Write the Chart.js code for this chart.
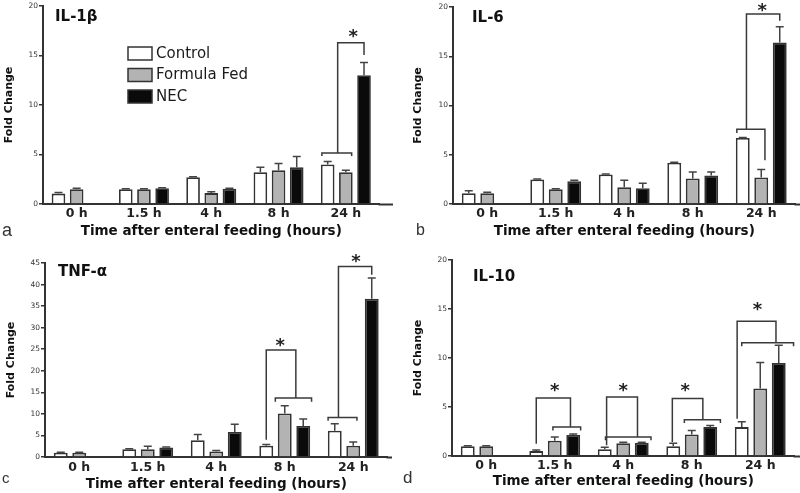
<!DOCTYPE html>
<html>
<head>
<meta charset="utf-8">
<script src="https://cdn.jsdelivr.net/npm/chart.js@4.4.0/dist/chart.umd.min.js"></script>
<style>
  html, body { margin: 0; padding: 0; background: #fff; }
  #wrap { position: relative; width: 800px; height: 493px; }
  canvas { position: absolute; }
</style>
</head>
<body>
<div id="wrap">
  <canvas id="ca" width="400" height="245" style="left:0;top:0"></canvas>
  <canvas id="cb" width="400" height="245" style="left:400px;top:0"></canvas>
  <canvas id="cc" width="400" height="248" style="left:0;top:245px"></canvas>
  <canvas id="cd" width="400" height="248" style="left:400px;top:245px"></canvas>
</div>
<script>
const times = ["0 h", "1.5 h", "4 h", "8 h", "24 h"];
const groups = ["Control", "Formula Fed", "NEC"];

// IL-1b
const il1bControl = [1.05, 1.5, 2.7, 3.2, 4.0];
const il1bFormula = [1.5, 1.5, 1.1, 3.4, 3.2];
const il1bNec = [null, 1.6, 1.55, 3.7, 13.0];
const il1bControlErr = [0.1, 0.05, 0.05, 0.5, 0.3];
const il1bFormulaErr = [0.1, 0.05, 0.15, 0.7, 0.2];
const il1bNecErr = [0, 0.05, 0.05, 1.1, 1.3];

// IL-6
const il6Control = [1.1, 2.5, 3.0, 4.2, 6.7];
const il6Formula = [1.1, 1.5, 1.7, 2.6, 2.7];
const il6Nec = [null, 2.3, 1.6, 2.9, 16.4];
const il6ControlErr = [0.25, 0.05, 0.05, 0.05, 0.05];
const il6FormulaErr = [0.1, 0.05, 0.7, 0.65, 0.8];
const il6NecErr = [0, 0.1, 0.5, 0.35, 1.6];

// TNF-a
const tnfControl = [1.0, 1.8, 3.9, 2.6, 6.1];
const tnfFormula = [1.0, 1.8, 1.3, 10.1, 2.6];
const tnfNec = [null, 2.2, 5.8, 7.2, 36.7];
const tnfControlErr = [0.1, 0.1, 1.3, 0.3, 1.6];
const tnfFormulaErr = [0.1, 0.7, 0.2, 1.8, 0.9];
const tnfNecErr = [0, 0.1, 1.8, 1.6, 4.8];

// IL-10
const il10Control = [1.0, 0.5, 0.7, 1.0, 2.95];
const il10Formula = [1.0, 1.55, 1.3, 2.2, 6.9];
const il10Nec = [null, 2.15, 1.35, 2.95, 9.5];
const il10ControlErr = [0.05, 0.1, 0.2, 0.3, 0.55];
const il10FormulaErr = [0.05, 0.4, 0.1, 0.4, 2.65];
const il10NecErr = [0, 0.1, 0.05, 0.15, 1.8];

// significance brackets: x in bar slots of a group (0 control, 1 formula, 2 NEC), y in data units
const il1bSig = [
  { cat: 4, lines: [[[-0.32, 4.85], [-0.32, 5.15], [1.32, 5.15], [1.32, 4.85]], [[0.55, 5.15], [0.55, 16.3], [2, 16.3], [2, 15.05]]], star: [1.4, 17.1] },
];
const il6Sig = [
  { cat: 4, lines: [[[-0.32, 7.2], [-0.32, 7.6], [1.2, 7.6], [1.2, 4.45]], [[0.2, 7.6], [0.2, 19.3], [2, 19.3], [2, 18.6]]], star: [1.05, 19.85] },
];
const tnfSig = [
  { cat: 3, lines: [[[0.49, 12.8], [0.49, 13.7], [2.45, 13.7], [2.45, 12.8]], [[0, 4.0], [0, 24.8], [1.6, 24.8], [1.6, 13.7]]], star: [0.76, 26.4] },
  { cat: 4, lines: [[[-0.36, 8.4], [-0.36, 9.15], [1.2, 9.15], [1.2, 8.4]], [[0.2, 9.15], [0.2, 44.2], [2, 44.2], [2, 42.3]]], star: [1.15, 45.8] },
];
const il10Sig = [
  { cat: 1, lines: [[[0.9, 2.6], [0.9, 2.96], [2.4, 2.96], [2.4, 2.6]], [[0, 1.26], [0, 5.93], [1.85, 5.93], [1.85, 2.96]]], star: [1.0, 6.9] },
  { cat: 2, lines: [[[0.04, 1.6], [0.04, 1.94], [2.5, 1.94], [2.5, 1.6]], [[0.1, 1.09], [0.1, 6.03], [1.77, 6.03], [1.77, 1.94]]], star: [1.0, 6.9] },
  { cat: 3, lines: [[[0.6, 3.37], [0.6, 3.71], [2.55, 3.71], [2.55, 3.37]], [[-0.05, 1.43], [-0.05, 5.86], [1.6, 5.86], [1.6, 3.71]]], star: [0.64, 6.9] },
  { cat: 4, lines: [[[0, 11.2], [0, 11.55], [2.8, 11.55], [2.8, 11.2]], [[-0.25, 3.8], [-0.25, 13.76], [1.85, 13.76], [1.85, 11.55]]], star: [0.85, 15.2] },
];

const fills = ["#ffffff", "#b3b3b3", "#0a0a0a"];
const ink = "#333";

function makeDeco(p) {
  return {
    id: "deco",
    afterDatasetsDraw(chart) {
      const { ctx, scales: { y } } = chart;
      ctx.save();
      ctx.strokeStyle = "#444";
      ctx.lineWidth = 1.5;
      // error bars, upper half only
      p.errs.forEach((errs, di) => {
        const vals = chart.data.datasets[di].data;
        chart.getDatasetMeta(di).data.forEach((bar, i) => {
          if (vals[i] == null || !errs[i]) return;
          const y0 = y.getPixelForValue(vals[i]),
            y1 = y.getPixelForValue(vals[i] + errs[i]);
          ctx.beginPath();
          ctx.moveTo(bar.x, y0);
          ctx.lineTo(bar.x, y1);
          ctx.moveTo(bar.x - 4, y1);
          ctx.lineTo(bar.x + 4, y1);
          ctx.stroke();
        });
      });
      // brackets
      const m0 = chart.getDatasetMeta(0).data,
        m1 = chart.getDatasetMeta(1).data;
      ctx.strokeStyle = "#3a3a3a";
      p.sig.forEach((s) => {
        const x0 = m0[s.cat].x,
          dx = m1[s.cat].x - x0;
        s.lines.forEach((pts) => {
          ctx.beginPath();
          pts.forEach(([u, v], k) => {
            const px = x0 + u * dx,
              py = y.getPixelForValue(v);
            k ? ctx.lineTo(px, py) : ctx.moveTo(px, py);
          });
          ctx.stroke();
        });
        ctx.fillStyle = "#222";
        ctx.font = "bold 18px 'DejaVu Sans'";
        ctx.textAlign = "center";
        ctx.textBaseline = "middle";
        ctx.fillText("*", x0 + s.star[0] * dx, y.getPixelForValue(s.star[1]) + 3);
      });
      ctx.restore();
    },
    afterDraw(chart) {
      const { ctx, chartArea: a } = chart;
      ctx.save();
      // axis runs on past the last group
      ctx.strokeStyle = ink;
      ctx.lineWidth = 2;
      ctx.beginPath();
      ctx.moveTo(a.right - 1, a.bottom + 0.5);
      ctx.lineTo(p.axisEnd, a.bottom + 0.5);
      ctx.stroke();
      // panel name
      ctx.fillStyle = "#111";
      ctx.font = "bold 15px 'DejaVu Sans'";
      ctx.textBaseline = "middle";
      ctx.textAlign = "left";
      ctx.fillText(p.name, p.nameAt[0], p.nameAt[1]);
      // panel letter
      ctx.fillStyle = "#333";
      ctx.font = p.letterSize + "px 'Liberation Sans'";
      ctx.fillText(p.letter, p.letterAt[0], p.letterAt[1]);
      // legend
      if (p.legend) {
        ctx.font = "15px 'DejaVu Sans'";
        chart.data.datasets.forEach((d, i) => {
          const ly = 47 + i * 21.5;
          ctx.fillStyle = d.backgroundColor;
          ctx.fillRect(128, ly, 24, 13);
          ctx.strokeStyle = ink;
          ctx.lineWidth = 1.5;
          ctx.strokeRect(128, ly, 24, 13);
          ctx.fillStyle = "#1a1a1a";
          ctx.fillText(d.label, 156, ly + 7);
        });
      }
      ctx.restore();
    },
  };
}

function panel(id, series, p) {
  return new Chart(document.getElementById(id), {
    type: "bar",
    data: {
      labels: times,
      datasets: groups.map((g, i) => ({
        label: g,
        data: series[i],
        backgroundColor: fills[i],
        borderColor: ink,
        borderWidth: 1.8,
        categoryPercentage: 0.81,
        barPercentage: 0.75,
      })),
    },
    options: {
      responsive: false,
      animation: false,
      layout: { padding: { top: p.top, right: p.right, left: 0, bottom: 0 } },
      plugins: { legend: { display: false }, tooltip: { enabled: false } },
      scales: {
        x: {
          grid: { display: false, drawTicks: false, tickLength: 0 },
          border: { color: ink, width: 2 },
          ticks: { color: "#222", font: { family: "DejaVu Sans", weight: "bold", size: 12.5 }, padding: p.xTickPad },
          title: { display: true, text: "Time after enteral feeding (hours)", color: "#111", font: { family: "DejaVu Sans", weight: "bold", size: 13.5 }, padding: { top: 0, bottom: p.xTitlePad } },
          afterFit: (s) => { s.height = p.xHeight; },
        },
        y: {
          min: 0,
          max: p.yMax,
          grid: { drawOnChartArea: false, drawTicks: true, tickLength: 4, color: ink, lineWidth: 1.5 },
          border: { color: ink, width: 2 },
          ticks: { stepSize: 5, color: "#333", font: { family: "DejaVu Sans", size: 7.5 }, padding: 1 },
          title: { display: true, text: "Fold Change", color: "#111", font: { family: "DejaVu Sans", weight: "bold", size: 11 }, padding: { top: p.yTitlePad, bottom: 0 } },
          afterFit: (s) => { s.width = p.yWidth; },
        },
      },
    },
    plugins: [makeDeco(p)],
  });
}

panel("ca", [il1bControl, il1bFormula, il1bNec], {
  errs: [il1bControlErr, il1bFormulaErr, il1bNecErr], sig: il1bSig,
  yMax: 20, top: 6, right: 20.5, yWidth: 43, xHeight: 41, axisEnd: 393,
  xTickPad: 2, xTitlePad: 5, yTitlePad: 3,
  name: "IL-1β", nameAt: [55, 17], letter: "a", letterAt: [2, 231], letterSize: 18, legend: true,
});
panel("cb", [il6Control, il6Formula, il6Nec], {
  errs: [il6ControlErr, il6FormulaErr, il6NecErr], sig: il6Sig,
  yMax: 20, top: 7, right: 4.5, yWidth: 53, xHeight: 41, axisEnd: 400,
  xTickPad: 2, xTitlePad: 5, yTitlePad: 12,
  name: "IL-6", nameAt: [72, 18], letter: "b", letterAt: [16, 231], letterSize: 16, legend: false,
});
panel("cc", [tnfControl, tnfFormula, tnfNec], {
  errs: [tnfControlErr, tnfFormulaErr, tnfNecErr], sig: tnfSig,
  yMax: 45, top: 18, right: 12.5, yWidth: 45, xHeight: 36, axisEnd: 392,
  xTickPad: 3, xTitlePad: 0, yTitlePad: 5,
  name: "TNF-α", nameAt: [58, 27], letter: "c", letterAt: [2, 234], letterSize: 15, legend: false,
});
panel("cd", [il10Control, il10Formula, il10Nec], {
  errs: [il10ControlErr, il10FormulaErr, il10NecErr], sig: il10Sig,
  yMax: 20, top: 15, right: 5.5, yWidth: 52, xHeight: 37, axisEnd: 400,
  xTickPad: 2, xTitlePad: 3, yTitlePad: 12,
  name: "IL-10", nameAt: [73, 32], letter: "d", letterAt: [3, 233], letterSize: 17, legend: false,
});
</script>
</body>
</html>
